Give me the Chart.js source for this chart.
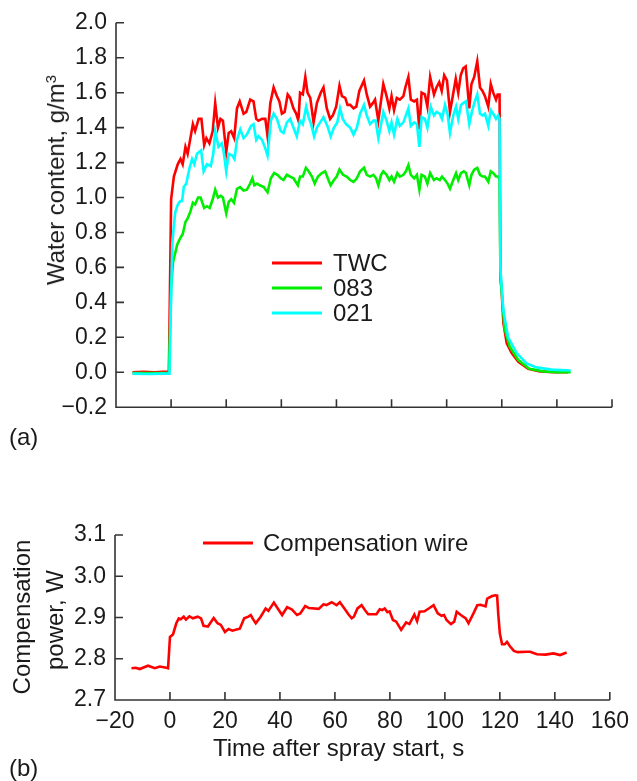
<!DOCTYPE html>
<html><head><meta charset="utf-8">
<script src="https://cdn.jsdelivr.net/npm/chart.js@4.4.1/dist/chart.umd.min.js"></script>
<style>
html,body{margin:0;padding:0;background:#fff;}
body{width:637px;height:781px;position:relative;overflow:hidden;font-family:'Liberation Sans',Arial,sans-serif;color:#1a1a1a;}
canvas{position:absolute;left:0;}
#cA{top:0;} #cB{top:480px;}
.lbl{position:absolute;font-size:24px;white-space:nowrap;line-height:1;}
.rot{transform:translate(-50%,-50%) rotate(-90deg);}
.vc{transform:translateY(-50%);}
sup{font-size:15px;vertical-align:8px;line-height:0;}
</style></head><body>
<canvas id="cA" width="637" height="430"></canvas>
<canvas id="cB" width="637" height="301"></canvas>
<div class="lbl rot" style="left:56px;top:180px;">Water content, g/m<sup>3</sup></div>
<div class="lbl vc" style="left:9px;top:437px;">(a)</div>
<div class="lbl rot" style="left:22px;top:617px;">Compensation</div>
<div class="lbl rot" style="left:55px;top:620px;">power, W</div>
<div class="lbl vc" style="left:213px;top:748px;">Time after spray start, s</div>
<div class="lbl vc" style="left:9px;top:768px;">(b)</div>
<script>
// ---- data ----
const xTicks = [-20, 0, 20, 40, 60, 80, 100, 120, 140, 160];
const yTicksA = [-0.2, 0, 0.2, 0.4, 0.6, 0.8, 1.0, 1.2, 1.4, 1.6, 1.8, 2.0];
const yTicksB = [2.7, 2.8, 2.9, 3.0, 3.1];

// [time s, water content g/m3]
const twc = [[-14,0],[-10,0.003],[-6,0],[-3,0.003],[-0.8,0.003],[0,0.99],[1,1.12],[2.4,1.19],[3.4,1.22],[4.2,1.19],[5.2,1.29],[6,1.25],[7.9,1.42],[8.7,1.38],[10,1.45],[11,1.45],[12,1.30],[12.8,1.34],[13.9,1.31],[15.1,1.38],[16,1.54],[17,1.40],[17.9,1.45],[18.8,1.44],[20,1.26],[20.9,1.37],[21.8,1.38],[22.9,1.34],[23.9,1.51],[24.9,1.55],[26.3,1.48],[27.3,1.49],[28.7,1.56],[29.9,1.55],[30.9,1.45],[31.7,1.44],[33,1.45],[34.2,1.45],[35,1.35],[36,1.54],[37.2,1.63],[38.4,1.58],[39.3,1.55],[40.2,1.48],[41.2,1.49],[42.3,1.59],[43.2,1.57],[44.4,1.51],[45.4,1.48],[46.2,1.44],[46.8,1.60],[47.8,1.59],[48.7,1.69],[49.5,1.60],[50.5,1.57],[51.7,1.43],[52.9,1.54],[54.3,1.60],[55.3,1.63],[56.5,1.51],[57.7,1.45],[58.7,1.47],[59.9,1.52],[61.1,1.64],[62,1.58],[63.2,1.57],[64,1.53],[65,1.53],[66.2,1.51],[67.2,1.52],[68.3,1.61],[70,1.67],[71,1.59],[72.2,1.52],[73.2,1.54],[74,1.56],[75.2,1.44],[77,1.65],[78.2,1.58],[79.2,1.51],[80,1.58],[80.9,1.50],[81.9,1.57],[83,1.56],[84.3,1.58],[85,1.63],[86.1,1.69],[87,1.56],[88.2,1.55],[89.2,1.56],[90.1,1.39],[90.9,1.60],[92.1,1.59],[93,1.52],[94,1.69],[95.4,1.59],[96.3,1.63],[97.3,1.66],[98.2,1.61],[99.1,1.70],[100.1,1.67],[101.2,1.49],[102.1,1.57],[103.3,1.68],[104.2,1.60],[105.1,1.70],[106,1.74],[106.9,1.75],[108.2,1.51],[109,1.65],[110,1.69],[111.1,1.78],[112.1,1.63],[113,1.61],[113.9,1.58],[115.1,1.52],[116,1.65],[116.9,1.60],[117.9,1.56],[118.5,1.59],[119.2,1.59],[119.5,0.55],[120,0.45],[120.6,0.28],[121.8,0.165],[123.6,0.11],[126,0.06],[129.6,0.02],[133.8,0.005],[139,0],[144,0]];

const s083 = [[-14,-0.005],[-8,-0.005],[-0.8,-0.005],[0,0.48],[0.7,0.63],[2.2,0.73],[3.4,0.77],[4.2,0.79],[5.2,0.86],[6,0.88],[7,0.92],[7.9,0.97],[8.7,0.96],[9.8,1.00],[10.7,1.00],[12,0.94],[13,0.95],[14,0.94],[15.1,0.99],[16,1.045],[17,1.00],[18,1.01],[18.8,1.00],[20,0.91],[20.9,0.975],[21.8,0.99],[22.8,0.97],[23.9,1.05],[25,1.06],[26.3,1.04],[27.5,1.045],[28.7,1.08],[29.5,1.11],[30.2,1.07],[31.2,1.08],[32.2,1.07],[33.6,1.06],[35,1.03],[36.2,1.11],[37.4,1.14],[38.6,1.13],[39.8,1.11],[40.8,1.10],[42,1.13],[43.2,1.12],[44.4,1.11],[46,1.07],[46.8,1.12],[47.8,1.12],[48.9,1.17],[49.9,1.15],[51.1,1.12],[52.1,1.08],[53.3,1.12],[54.7,1.14],[55.9,1.15],[57.1,1.10],[57.9,1.07],[59.1,1.10],[60.1,1.12],[61.1,1.16],[62.4,1.13],[63.7,1.12],[65,1.10],[66.2,1.09],[67.4,1.11],[68.6,1.15],[70,1.17],[71,1.13],[72.2,1.12],[73.4,1.13],[74.4,1.11],[75.2,1.07],[76.2,1.13],[77,1.15],[78.2,1.13],[79.2,1.10],[80,1.12],[80.9,1.09],[82.1,1.14],[83,1.12],[84.3,1.13],[85.2,1.15],[86.1,1.185],[87,1.13],[88.2,1.11],[89.2,1.13],[90.1,1.045],[90.9,1.13],[92.1,1.12],[93,1.08],[94,1.14],[95.4,1.10],[96.3,1.11],[97.5,1.10],[98.3,1.12],[99.4,1.10],[100.3,1.08],[101.2,1.05],[102.4,1.10],[103.4,1.14],[104.2,1.10],[105.2,1.14],[106.2,1.15],[107,1.14],[108.2,1.07],[109,1.13],[110,1.16],[111.1,1.17],[112.1,1.13],[113,1.12],[113.9,1.12],[115.1,1.09],[116,1.15],[116.9,1.14],[117.9,1.12],[118.7,1.12],[119.2,1.10],[119.5,0.56],[121,0.25],[122.9,0.146],[126,0.07],[130,0.02],[135,0.005],[140,0],[145,0]];

const s021 = [[-14,-0.008],[-8,-0.01],[-3,-0.008],[-0.6,-0.008],[0.4,0.73],[1,0.84],[1.5,0.915],[2.2,0.95],[2.8,0.97],[3.4,0.98],[4,0.98],[4.6,1.06],[5.5,1.08],[6.7,1.17],[7.6,1.22],[8.4,1.19],[9.4,1.25],[10.9,1.27],[11.8,1.15],[13,1.19],[14.4,1.18],[15.3,1.25],[16,1.38],[17.2,1.29],[18.4,1.31],[19,1.27],[20,1.15],[20.9,1.25],[22.2,1.24],[23,1.22],[23.9,1.33],[25.1,1.39],[26.3,1.34],[27.5,1.36],[29,1.41],[29.9,1.42],[30.9,1.33],[31.7,1.35],[33,1.33],[34.2,1.28],[35,1.24],[36.2,1.44],[37.2,1.48],[38.4,1.45],[39.8,1.38],[40.8,1.37],[42,1.43],[43.2,1.45],[44.4,1.40],[45.6,1.35],[46.8,1.44],[47.8,1.42],[49,1.52],[49.9,1.46],[50.8,1.42],[51.9,1.35],[52.9,1.40],[54.1,1.43],[55.3,1.46],[56.7,1.41],[57.9,1.35],[59.1,1.40],[60.3,1.43],[61.3,1.51],[62.3,1.45],[63.5,1.42],[65,1.40],[66.2,1.36],[67.4,1.40],[68.6,1.48],[70,1.53],[71,1.47],[72.2,1.42],[73.4,1.44],[74.2,1.44],[75.2,1.34],[76.2,1.42],[77,1.49],[78.2,1.44],[79.2,1.38],[80,1.43],[80.9,1.36],[82.1,1.45],[83,1.41],[84.3,1.43],[85.2,1.47],[86.1,1.51],[87,1.41],[88.2,1.43],[89.2,1.42],[90.1,1.29],[90.9,1.46],[92.1,1.45],[93,1.40],[94.2,1.52],[95.4,1.47],[96.3,1.49],[97.5,1.48],[98.3,1.45],[99.4,1.53],[100.3,1.48],[101.2,1.37],[102.4,1.47],[103.4,1.52],[104.2,1.45],[105.2,1.53],[106,1.54],[107,1.55],[108.2,1.42],[109,1.48],[110,1.54],[111.1,1.59],[112.1,1.48],[113,1.47],[113.9,1.48],[115.1,1.41],[116,1.50],[116.9,1.48],[117.9,1.45],[118.7,1.47],[119.2,1.45],[119.5,0.6],[120.1,0.45],[120.6,0.35],[122.3,0.20],[125.4,0.11],[129,0.05],[132.6,0.028],[138,0.015],[145,0.01]];

// [time s, compensation power W]
const compWire = [[-14,2.777],[-12.5,2.778],[-11,2.775],[-8,2.783],[-5.5,2.777],[-3.7,2.781],[-1.3,2.778],[-0.7,2.777],[0,2.853],[1.1,2.859],[2.3,2.886],[3.2,2.898],[3.9,2.896],[5,2.902],[5.8,2.895],[7.1,2.903],[8.3,2.898],[10.1,2.902],[11.3,2.898],[12.2,2.880],[13.8,2.878],[15.9,2.899],[17.3,2.886],[18.5,2.882],[20,2.865],[21.3,2.872],[22.7,2.868],[24.2,2.871],[25.4,2.873],[27,2.898],[28.5,2.902],[29.4,2.906],[30.2,2.896],[31.2,2.886],[33,2.902],[34.8,2.922],[35.8,2.916],[37.8,2.936],[39.2,2.922],[40.8,2.906],[42.6,2.925],[44.4,2.919],[46.2,2.906],[47.4,2.910],[49.2,2.928],[50.5,2.923],[54.1,2.921],[55.9,2.932],[56.9,2.930],[58.8,2.937],[60.6,2.930],[61.8,2.937],[63,2.926],[64.9,2.908],[66.1,2.898],[66.9,2.902],[68.2,2.922],[69.7,2.930],[70.9,2.918],[72.1,2.908],[73.9,2.908],[75.1,2.908],[76.3,2.920],[77.2,2.918],[78.1,2.922],[79.1,2.913],[79.9,2.915],[81.1,2.894],[82.3,2.890],[84.1,2.870],[85.9,2.888],[87.1,2.884],[88.9,2.907],[89.9,2.891],[90.8,2.914],[92.6,2.915],[94.4,2.923],[95.9,2.930],[97.4,2.910],[98.8,2.904],[99.7,2.906],[100.6,2.894],[102.2,2.884],[103.4,2.890],[104.3,2.914],[105.8,2.906],[107.6,2.898],[108.6,2.886],[110.4,2.910],[111.8,2.930],[113,2.931],[114.8,2.927],[115.4,2.946],[117.2,2.952],[118.4,2.954],[119,2.953],[119.4,2.910],[120,2.861],[120.8,2.835],[121.8,2.835],[122.6,2.841],[123.6,2.831],[125.1,2.819],[126.5,2.816],[129.9,2.817],[131,2.817],[133.5,2.811],[136.6,2.810],[139.5,2.813],[141.9,2.809],[144.3,2.815]];

// ---- styling ----
const AX = '#333333';
const TXT = '#1a1a1a';
const FONT = "'Liberation Sans', Arial, sans-serif";
Chart.defaults.font.family = FONT;
Chart.defaults.font.size = 23;
Chart.defaults.color = TXT;

const minus = s => String(s).replace('-', '\u2212');
const toXY = arr => arr.map(p => ({x: p[0], y: p[1]}));

const frame = {
  id: 'frame',
  afterDatasetsDraw(chart, args, o) {
    const {ctx, chartArea: a, scales: {x, y}} = chart;
    ctx.save();
    ctx.strokeStyle = AX; ctx.lineWidth = 1.6; ctx.lineCap = 'butt';
    ctx.beginPath();
    ctx.moveTo(a.left, a.top); ctx.lineTo(a.left, a.bottom); ctx.lineTo(a.right, a.bottom);
    x.ticks.forEach(t => { const px = x.getPixelForValue(t.value); ctx.moveTo(px, a.bottom); ctx.lineTo(px, a.bottom - o.tl); });
    y.ticks.forEach(t => { const py = y.getPixelForValue(t.value); ctx.moveTo(a.left, py); ctx.lineTo(a.left + o.tl, py); });
    ctx.stroke();
    // legend inside plot
    const L = o.legend;
    ctx.font = L.size + 'px ' + FONT;
    ctx.textBaseline = 'middle'; ctx.textAlign = 'left';
    L.items.forEach((di, k) => {
      const ds = chart.data.datasets[di];
      const yy = L.y + k * L.row;
      ctx.strokeStyle = ds.borderColor; ctx.lineWidth = L.lw;
      ctx.beginPath(); ctx.moveTo(L.x, yy); ctx.lineTo(L.x + L.len, yy); ctx.stroke();
      ctx.fillStyle = TXT;
      ctx.fillText(ds.label, L.x + L.len + L.gap, yy + 1);
    });
    ctx.restore();
  }
};

function xScale(showLabels, h) {
  return {
    type: 'linear', min: -20, max: 160,
    afterBuildTicks: s => { s.ticks = xTicks.map(v => ({value: v})); },
    ticks: {display: showLabels, padding: 8, maxRotation: 0, autoSkip: false, callback: v => minus(v), color: TXT},
    grid: {display: false, drawTicks: false},
    border: {display: false},
    afterFit: s => { s.height = h; }
  };
}
function yScale(min, max, list, w) {
  return {
    type: 'linear', min, max,
    afterBuildTicks: s => { s.ticks = list.map(v => ({value: v})); },
    ticks: {padding: 9, autoSkip: false, callback: v => minus(v.toFixed(1)), color: TXT},
    grid: {display: false, drawTicks: false},
    border: {display: false},
    afterFit: s => { s.width = w; }
  };
}
const lineDs = (label, arr, color, order) => ({
  label, data: toXY(arr), borderColor: color, backgroundColor: color,
  borderWidth: 2.6, pointRadius: 0, tension: 0, fill: false, order
});

new Chart(document.getElementById('cA'), {
  type: 'line',
  data: {datasets: [
    lineDs('TWC', twc, '#ff0000', 2),
    lineDs('083', s083, '#00ee00', 1),
    lineDs('021', s021, '#00ffff', 0)
  ]},
  options: {
    responsive: false, animation: false,
    layout: {padding: {left: 0, right: 25, top: 19, bottom: 0}},
    scales: {x: xScale(false, 19), y: yScale(-0.2, 2.0, yTicksA, 116)},
    plugins: {legend: {display: false}, tooltip: {enabled: false},
      frame: {tl: 8, legend: {x: 272, y: 263, row: 25, len: 50, gap: 11, lw: 3, size: 24, items: [0, 1, 2]}}}
  },
  plugins: [frame]
});

new Chart(document.getElementById('cB'), {
  type: 'line',
  data: {datasets: [lineDs('Compensation wire', compWire, '#ff0000', 0)]},
  options: {
    responsive: false, animation: false,
    layout: {padding: {left: 0, right: 25, top: 55, bottom: 0}},
    scales: {x: xScale(true, 81), y: yScale(2.7, 3.1, yTicksB, 115)},
    plugins: {legend: {display: false}, tooltip: {enabled: false},
      frame: {tl: 8, legend: {x: 203, y: 63, row: 25, len: 50, gap: 10, lw: 3, size: 24, items: [0]}}}
  },
  plugins: [frame]
});
</script>
</body></html>
